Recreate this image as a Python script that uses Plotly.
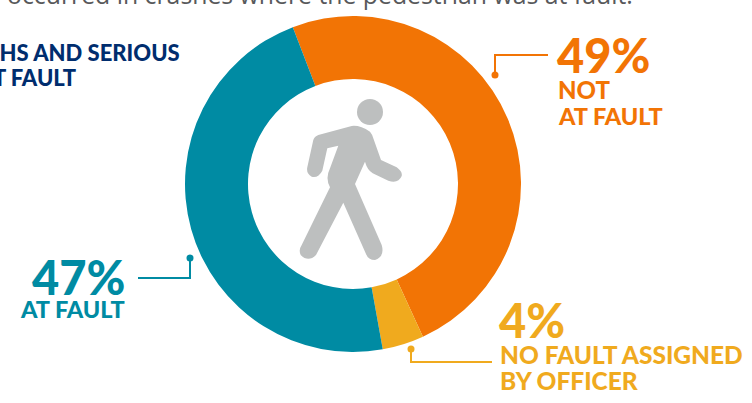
import plotly.graph_objects as go

# Share of pedestrian deaths and serious injuries by fault assignment
categories = ["Not at fault", "No fault assigned by officer", "At fault"]
shares = [49, 4, 47]
colors = ["#f27405", "#f0aa1e", "#008ba3"]

W, H = 752, 403
NAVY = "#002d6e"
ORANGE, AMBER, TEAL = colors
GREY = "#bdbfbf"
FONT = "Lato"

# Leader lines from each ring segment to its label (page pixels)
leaders = [
    ([548, 495, 495], [55, 55, 75], ORANGE),
    ([138, 190, 190], [278, 278, 258], TEAL),
    ([492, 411, 411], [362, 362, 349], AMBER),
]

# text, x, y centre, anchor, size, weight, colour
labels = [
    ("49%", 555, 55, "left", 47, 900, ORANGE),
    ("NOT", 556, 89, "left", 24, 900, ORANGE),
    ("AT FAULT", 556, 116, "left", 23.5, 900, ORANGE),
    ("47%", 127, 277, "right", 47, 900, TEAL),
    ("AT FAULT", 127, 309, "right", 23.5, 900, TEAL),
    ("4%", 497, 320, "left", 47, 900, AMBER),
    ("NO FAULT ASSIGNED", 498, 354, "left", 24.5, 900, AMBER),
    ("BY OFFICER", 498, 380, "left", 24.5, 900, AMBER),
    ("DEATHS AND SERIOUS", 182, 52, "right", 22, 900, NAVY),
    ("AT FAULT", 78, 77, "right", 22, 900, NAVY),
]

# Walking figure outline, in units of 1/3 px relative to (280, 80)
body = [
    ("M", 115, 165), ("L", 215, 138), ("Q", 240, 135, 270, 155), ("Q", 278, 165, 280, 175),
    ("L", 303, 240), ("L", 350, 262), ("Q", 368, 275, 365, 288), ("Q", 355, 312, 325, 302),
    ("L", 278, 280), ("Q", 262, 270, 255, 245), ("L", 225, 312), ("L", 305, 495),
    ("Q", 315, 530, 285, 540), ("Q", 265, 540, 258, 522), ("L", 190, 368), ("L", 108, 525),
    ("Q", 85, 548, 62, 525), ("Q", 55, 510, 65, 495), ("L", 150, 322), ("Q", 135, 295, 150, 265),
    ("L", 175, 197), ("L", 142, 205), ("L", 127, 272), ("Q", 115, 295, 95, 290),
    ("Q", 78, 280, 82, 262), ("L", 100, 180), ("Q", 103, 170, 115, 165),
]


def icon_path(cmds):
    parts = []
    for c in cmds:
        pts = c[1:]
        xy = [f"{280 + pts[i] / 3:.1f},{80 + pts[i + 1] / 3:.1f}" for i in range(0, len(pts), 2)]
        parts.append(c[0] + " ".join(xy))
    return " ".join(parts) + " Z"


fig = go.Figure()

fig.add_trace(go.Pie(
    labels=categories,
    values=shares,
    marker=dict(colors=colors, line=dict(width=0)),
    hole=0.625,
    sort=False,
    direction="clockwise",
    rotation=-21,
    textinfo="none",
    hoverinfo="skip",
    showlegend=False,
    domain=dict(x=[185 / W, 521 / W], y=[1 - 352 / H, 1 - 16 / H]),
))

for xs, ys, col in leaders:
    fig.add_trace(go.Scatter(
        x=xs, y=ys, mode="lines", line=dict(color=col, width=2),
        hoverinfo="skip", showlegend=False,
    ))
    fig.add_trace(go.Scatter(
        x=[xs[-1]], y=[ys[-1]], mode="markers", marker=dict(color=col, size=7),
        hoverinfo="skip", showlegend=False,
    ))

annotations = [
    dict(x=x, y=y, text=t, xref="x", yref="y", xanchor=a, yanchor="middle", showarrow=False,
         font=dict(family=FONT, size=s, weight=w, color=c))
    for t, x, y, a, s, w, c in labels
]
# Sentence running in from the paragraph above the chart
annotations.append(dict(
    x=6 / W, y=1 - 12 / H, text="occurred in crashes where the pedestrian was at fault.",
    xref="paper", yref="paper", xanchor="left", yanchor="bottom", showarrow=False,
    borderpad=0, font=dict(family="Open Sans", size=24.8, color="#58595b"),
))

fig.update_layout(
    width=W, height=H,
    margin=dict(l=0, r=0, t=0, b=0),
    paper_bgcolor="white", plot_bgcolor="rgba(0,0,0,0)",
    xaxis=dict(range=[0, W], visible=False, fixedrange=True),
    yaxis=dict(range=[H, 0], visible=False, fixedrange=True),
    annotations=annotations,
    shapes=[
        dict(type="circle", xref="x", yref="y", x0=357, x1=383, y0=99, y1=125,
             fillcolor=GREY, line_width=0),
        dict(type="path", xref="x", yref="y", path=icon_path(body), fillcolor=GREY, line_width=0),
    ],
)

fig.write_html("out.html", config={"displayModeBar": False})
